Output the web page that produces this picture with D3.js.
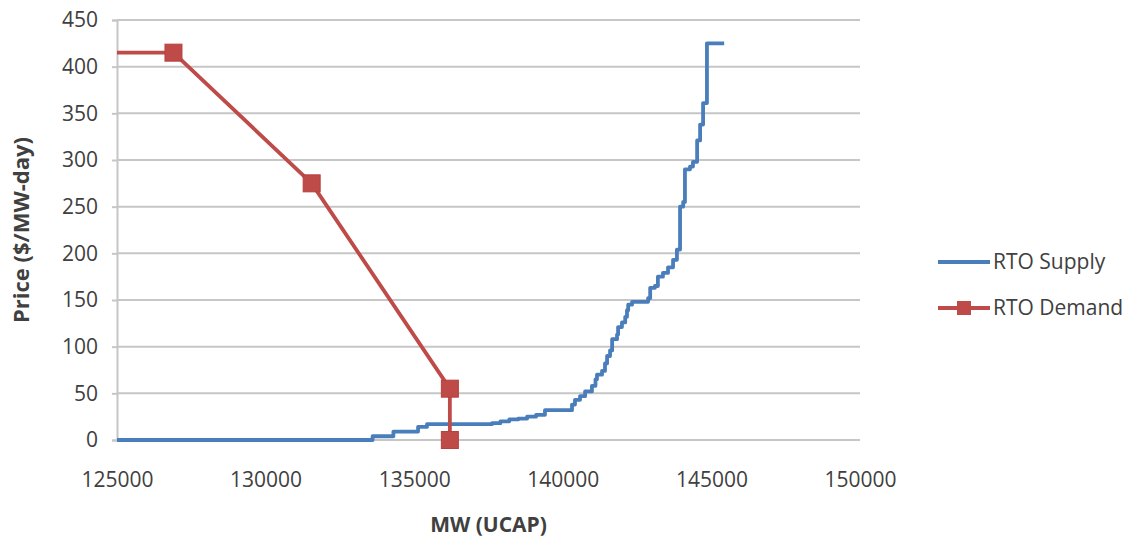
<!DOCTYPE html>
<html>
<head>
<meta charset="utf-8">
<script src="https://cdn.jsdelivr.net/npm/d3@7"></script>
<style>
  body { margin: 0; background: #fff; }
  #chart { width: 1131px; height: 544px; }
</style>
</head>
<body>
<div id="chart"></div>
<script>
// supply curve, step after each point
var supplyX = [125000, 133600, 134300, 135130, 135430, 137620, 137900, 138200, 138500, 138800, 139100,
  139400, 140310, 140410, 140580, 140750, 140980, 141100, 141150, 141320, 141420, 141490, 141590,
  141660, 141825, 141860, 141990, 142100, 142160, 142200, 142330, 142870, 142940, 143100, 143200,
  143370, 143540, 143710, 143840, 143945, 144050, 144110, 144280, 144380, 144520, 144620, 144720,
  144850, 145430];
var supplyY = [0, 4, 9, 14, 17, 18, 20, 22, 23, 25, 27,
  32, 38, 43, 47, 52, 58, 65, 70, 74, 82, 90, 96,
  108, 113, 121, 126, 132, 139, 145, 148, 152, 163, 165, 175,
  179, 185, 193, 204, 250, 255, 290, 293, 298, 321, 338, 361,
  425, 425];

var demandX = [124000, 126900, 131550, 136200, 136200];
var demandY = [415, 415, 275, 55, 0];
var demandMarker = [false, true, true, true, true];

var xTicks = [125000, 130000, 135000, 140000, 145000, 150000];
var yTicks = [0, 50, 100, 150, 200, 250, 300, 350, 400, 450];

var seriesNames = ["RTO Supply", "RTO Demand"];

var width = 1131,
  height = 544,
  plotLeft = 117,
  plotRight = 860,
  plotTop = 20,
  plotBottom = 440,
  supplyColor = "#4a7ebb",
  demandColor = "#be4b48",
  gridColor = "#c6c6c6",
  textColor = "#404040",
  fontFam = "'Open Sans', 'Liberation Sans', sans-serif";

var svg = d3.select("#chart").append("svg")
  .attr("width", width)
  .attr("height", height);

var x = d3.scaleLinear().domain([125000, 150000]).range([plotLeft, plotRight]);
var y = d3.scaleLinear().domain([0, 450]).range([plotBottom, plotTop]);

svg.append("defs").append("clipPath").attr("id", "plot")
  .append("rect")
  .attr("x", plotLeft).attr("y", plotTop - 10)
  .attr("width", plotRight - plotLeft).attr("height", plotBottom - plotTop + 20);

// gridlines
svg.append("g")
  .selectAll("line")
  .data(yTicks)
  .enter()
  .append("line")
  .attr("x1", plotLeft)
  .attr("x2", plotRight)
  .attr("y1", function (d) { return y(d); })
  .attr("y2", function (d) { return y(d); })
  .style("stroke", gridColor)
  .style("stroke-width", 2);

// y axis
var yAxis = svg.append("g")
  .attr("transform", "translate(" + plotLeft + ",0)")
  .call(d3.axisLeft(y).tickValues(yTicks).tickSize(5).tickPadding(14));
yAxis.select(".domain").style("stroke", gridColor).style("stroke-width", 2);
yAxis.selectAll(".tick line").style("stroke", gridColor).style("stroke-width", 2);
yAxis.selectAll("text")
  .style("font-family", fontFam)
  .style("font-size", "21px")
  .style("fill", textColor);

// x axis (labels only, gridline at 0 acts as the line)
var xAxis = svg.append("g")
  .attr("transform", "translate(0," + plotBottom + ")")
  .call(d3.axisBottom(x).tickValues(xTicks).tickSize(0).tickPadding(32).tickFormat(d3.format("d")));
xAxis.select(".domain").remove();
xAxis.selectAll("text")
  .style("font-family", fontFam)
  .style("font-size", "21px")
  .style("fill", textColor);

// axis titles
svg.append("text")
  .text("MW (UCAP)")
  .attr("x", (plotLeft + plotRight) / 2)
  .attr("y", 532)
  .attr("text-anchor", "middle")
  .style("font-family", fontFam)
  .style("font-size", "21px")
  .style("font-weight", "bold")
  .style("fill", textColor);

svg.append("text")
  .text("Price ($/MW-day)")
  .attr("transform", "translate(29," + ((plotTop + plotBottom) / 2) + ") rotate(-90)")
  .attr("text-anchor", "middle")
  .style("font-family", fontFam)
  .style("font-size", "22px")
  .style("font-weight", "bold")
  .style("fill", textColor);

// series
var supplyLine = d3.line()
  .x(function (d) { return x(d[0]); })
  .y(function (d) { return y(d[1]); })
  .curve(d3.curveStepAfter);

var supplyData = supplyX.map(function (v, i) { return [v, supplyY[i]]; });

svg.append("path")
  .datum(supplyData)
  .attr("d", supplyLine)
  .attr("clip-path", "url(#plot)")
  .style("fill", "none")
  .style("stroke", supplyColor)
  .style("stroke-width", 3.8)
  .style("stroke-linejoin", "round");

var demandLine = d3.line()
  .x(function (d) { return x(d[0]); })
  .y(function (d) { return y(d[1]); });

var demandData = demandX.map(function (v, i) { return [v, demandY[i], demandMarker[i]]; });

svg.append("path")
  .datum(demandData)
  .attr("d", demandLine)
  .attr("clip-path", "url(#plot)")
  .style("fill", "none")
  .style("stroke", demandColor)
  .style("stroke-width", 3.8)
  .style("stroke-linejoin", "round");

var mk = 17;
svg.selectAll("rect.marker")
  .data(demandData.filter(function (d) { return d[2]; }))
  .enter()
  .append("rect")
  .attr("class", "marker")
  .attr("x", function (d) { return x(d[0]) - mk / 2; })
  .attr("y", function (d) { return y(d[1]) - mk / 2; })
  .attr("width", mk)
  .attr("height", mk)
  .style("fill", demandColor)
  .style("stroke", "#b8413e")
  .style("stroke-width", 1);

// legend
var legend = svg.append("g").attr("transform", "translate(938,262)");
var items = legend.selectAll("g")
  .data(seriesNames)
  .enter()
  .append("g")
  .attr("transform", function (d, i) { return "translate(0," + i * 46 + ")"; });

items.append("line")
  .attr("x1", 0)
  .attr("x2", 52)
  .style("stroke", function (d, i) { return i == 0 ? supplyColor : demandColor; })
  .style("stroke-width", 3.8);

items.filter(function (d, i) { return i == 1; })
  .append("rect")
  .attr("x", 26 - 7)
  .attr("y", -7)
  .attr("width", 14)
  .attr("height", 14)
  .style("fill", demandColor);

items.append("text")
  .text(function (d) { return d; })
  .attr("x", 55)
  .attr("dy", "0.35em")
  .style("font-family", fontFam)
  .style("font-size", "21px")
  .style("fill", textColor);
</script>
</body>
</html>
